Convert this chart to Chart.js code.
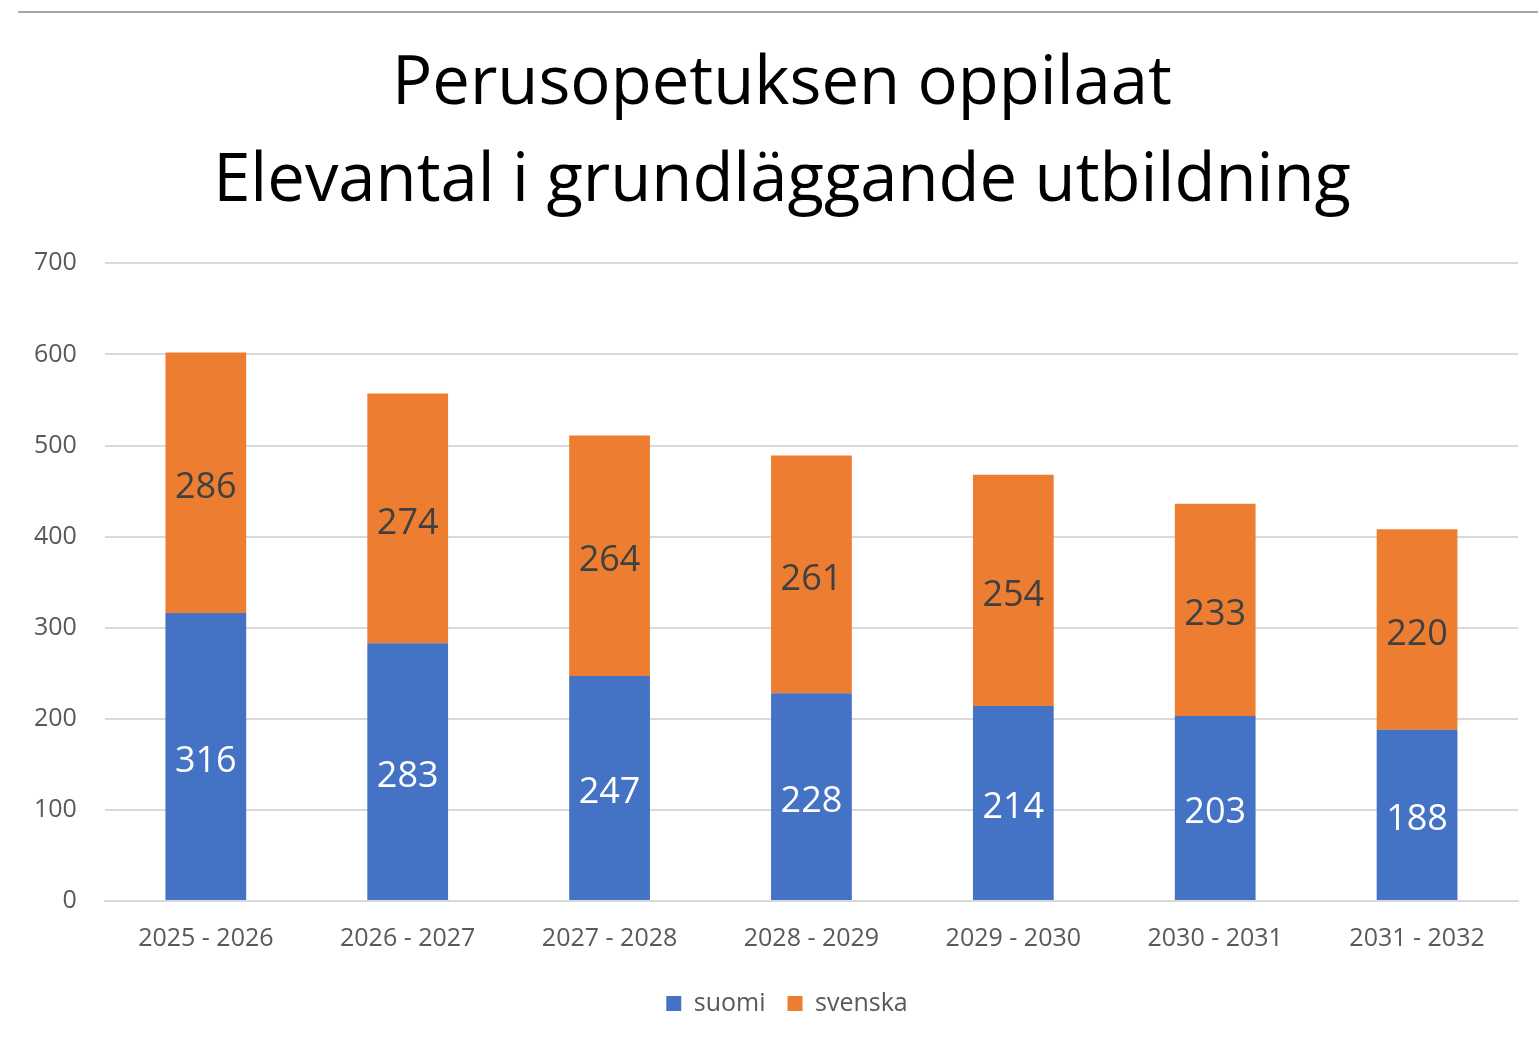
<!DOCTYPE html>
<html><head><meta charset="utf-8">
<script src="https://cdn.jsdelivr.net/npm/chart.js@4/dist/chart.umd.min.js"></script>
<style>
html,body{margin:0;padding:0;background:#fff;}
#wrap{position:relative;width:1538px;height:1044px;}
#wrap:before{content:"";position:absolute;left:18px;top:11px;right:0;height:0;border-top:2px solid #a6a6a6;}
canvas{position:absolute;left:0;top:0;}
</style></head>
<body><div id="wrap"><canvas id="c" width="1538" height="1044"></canvas></div>
<script>
const categories = ["2025 - 2026","2026 - 2027","2027 - 2028","2028 - 2029","2029 - 2030","2030 - 2031","2031 - 2032"];
const suomi = [316,283,247,228,214,203,188];
const svenska = [286,274,264,261,254,233,220];
const titleLines = ["Perusopetuksen oppilaat","Elevantal i grundläggande utbildning"];

const FONT = "'Open Sans', 'Noto Sans', sans-serif";

const labelPlugin = {
  id: 'segLabels',
  afterLayout(chart){
    // shift title and legend centre slightly to the right, as in the reference
    if (chart.titleBlock) chart.titleBlock.left += 40;
    if (chart.legend) chart.legend.left += 50;
  },
  afterDatasetsDraw(chart){
    const ctx = chart.ctx;
    ctx.save();
    ctx.font = "36px " + FONT;
    ctx.textAlign = 'center';
    ctx.textBaseline = 'middle';
    chart.data.datasets.forEach((ds, i) => {
      const meta = chart.getDatasetMeta(i);
      meta.data.forEach((bar, j) => {
        const y = (bar.y + bar.base) / 2 + 5;
        ctx.fillStyle = i === 0 ? '#ffffff' : '#404040';
        ctx.fillText(String(ds.data[j]), bar.x, y);
      });
    });
    ctx.restore();
  }
};

new Chart(document.getElementById('c'), {
  type: 'bar',
  data: {
    labels: categories,
    datasets: [
      {label: 'suomi', data: suomi, backgroundColor: '#4472C4', barPercentage: 0.5, categoryPercentage: 0.8},
      {label: 'svenska', data: svenska, backgroundColor: '#ED7D31', barPercentage: 0.5, categoryPercentage: 0.8}
    ]
  },
  options: {
    responsive: false,
    animation: false,
    layout: {padding: {left: 6, right: 20, top: 36, bottom: 18}},
    plugins: {
      title: {
        display: true,
        text: titleLines,
        color: '#000000',
        font: {family: FONT, size: 67, weight: 'normal', lineHeight: 1.45},
        padding: {top: 0, bottom: 33}
      },
      legend: {
        position: 'bottom',
        labels: {
          boxWidth: 15, boxHeight: 15, color: '#595959',
          font: {family: FONT, size: 25},
          padding: 22
        }
      },
      tooltip: {enabled: false}
    },
    scales: {
      x: {
        stacked: true,
        grid: {display: false},
        border: {color: '#d9d9d9', width: 2},
        ticks: {color: '#595959', font: {family: FONT, size: 25}, padding: 15}
      },
      y: {
        stacked: true,
        min: 0, max: 700,
        ticks: {stepSize: 100, color: '#595959', font: {family: FONT, size: 25}, padding: 28},
        grid: {color: '#d9d9d9', lineWidth: 2, drawTicks: false},
        border: {display: false}
      }
    }
  },
  plugins: [labelPlugin]
});
</script></body></html>
